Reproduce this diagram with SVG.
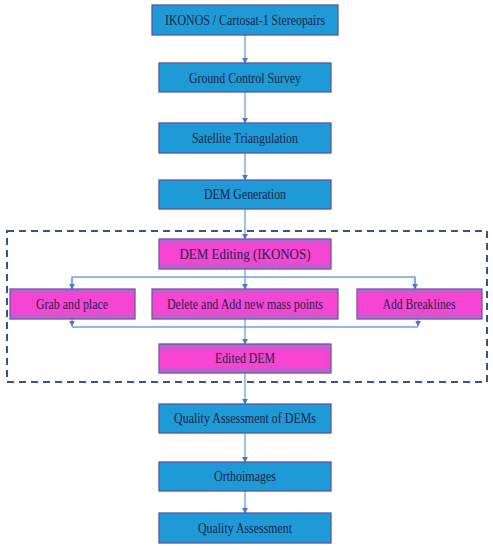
<svg xmlns="http://www.w3.org/2000/svg" width="493" height="550" viewBox="0 0 493 550">
<defs>
<style>
.b{fill:#1E9AD6;stroke:#5A55A6;stroke-width:1.3}
.m{fill:url(#mg);stroke:#6A5AA8;stroke-width:1.3}
.t{font-family:"Liberation Serif","Times New Roman",serif;font-size:14.5px;fill:#1A2548;text-anchor:middle;dominant-baseline:central}
.c{stroke:#6FA0DA;stroke-width:1.3;fill:none}
.c2{stroke:#6FA0DA;stroke-width:1.3;fill:none;marker-end:url(#ah)}
</style>
<linearGradient id="mg" x1="0" y1="0" x2="0" y2="1">
<stop offset="0" stop-color="#C85CCF"/>
<stop offset="0.16" stop-color="#C85CCF"/>
<stop offset="0.17" stop-color="#F744D3"/>
<stop offset="0.83" stop-color="#F744D3"/>
<stop offset="0.84" stop-color="#C85CCF"/>
<stop offset="1" stop-color="#C85CCF"/>
</linearGradient>
<marker id="ah" viewBox="0 0 8 8" refX="7" refY="4" markerWidth="6" markerHeight="6" markerUnits="userSpaceOnUse" orient="auto">
<path d="M0,0 L8,4 L0,8 z" fill="#4A78C8"/>
</marker>
</defs>
<rect width="493" height="550" fill="#fff"/>
<g id="connectors">
<line class="c2" x1="245" y1="35" x2="245" y2="63"/>
<line class="c2" x1="245" y1="92" x2="245" y2="123"/>
<line class="c2" x1="245" y1="153" x2="245" y2="180"/>
<line class="c2" x1="245" y1="209" x2="245" y2="239"/>
<line class="c2" x1="245" y1="269" x2="245" y2="289"/>
<polyline class="c" points="72,289 72,277 415,277 415,289"/>
<line class="c2" x1="72" y1="278" x2="72" y2="289"/>
<line class="c2" x1="415" y1="278" x2="415" y2="289"/>
<line class="c" x1="72" y1="327" x2="418" y2="327"/>
<line class="c2" x1="72" y1="319" x2="72" y2="326"/>
<line class="c2" x1="418" y1="319" x2="418" y2="326"/>
<line class="c2" x1="245" y1="319" x2="245" y2="344"/>
<line class="c2" x1="245" y1="373" x2="245" y2="404"/>
<line class="c2" x1="245" y1="433" x2="245" y2="462"/>
<line class="c2" x1="245" y1="491" x2="245" y2="513"/>
</g>
<rect id="group-box" x="7" y="231" width="480" height="151" fill="none" stroke="#3F4E8C" stroke-width="2" stroke-dasharray="7,5"/>
<g id="n1"><rect class="b" x="152" y="5" width="186" height="30"/><text class="t" x="245" y="20" textLength="160" lengthAdjust="spacingAndGlyphs">IKONOS / Cartosat-1 Stereopairs</text></g>
<g id="n2"><rect class="b" x="159" y="63" width="172" height="29"/><text class="t" x="245" y="78" textLength="112" lengthAdjust="spacingAndGlyphs">Ground Control Survey</text></g>
<g id="n3"><rect class="b" x="159" y="123" width="172" height="30"/><text class="t" x="245" y="138" textLength="106" lengthAdjust="spacingAndGlyphs">Satellite Triangulation</text></g>
<g id="n4"><rect class="b" x="159" y="180" width="172" height="29"/><text class="t" x="245" y="194" textLength="82" lengthAdjust="spacingAndGlyphs">DEM Generation</text></g>
<g id="n5"><rect class="m" x="159" y="239" width="172" height="30"/><text class="t" x="245" y="254" textLength="131" lengthAdjust="spacingAndGlyphs">DEM Editing (IKONOS)</text></g>
<g id="n6"><rect class="m" x="10" y="289" width="125" height="30"/><text class="t" x="72" y="304" textLength="72" lengthAdjust="spacingAndGlyphs">Grab and place</text></g>
<g id="n7"><rect class="m" x="152" y="289" width="186" height="30"/><text class="t" x="245" y="304" textLength="156" lengthAdjust="spacingAndGlyphs">Delete and Add new mass points</text></g>
<g id="n8"><rect class="m" x="357" y="289" width="125" height="30"/><text class="t" x="419" y="304" textLength="73" lengthAdjust="spacingAndGlyphs">Add Breaklines</text></g>
<g id="n9"><rect class="m" x="159" y="344" width="172" height="29"/><text class="t" x="245" y="358" textLength="60" lengthAdjust="spacingAndGlyphs">Edited DEM</text></g>
<g id="n10"><rect class="b" x="159" y="404" width="172" height="29"/><text class="t" x="245" y="418" textLength="142" lengthAdjust="spacingAndGlyphs">Quality Assessment of DEMs</text></g>
<g id="n11"><rect class="b" x="159" y="462" width="172" height="29"/><text class="t" x="245" y="476" textLength="62" lengthAdjust="spacingAndGlyphs">Orthoimages</text></g>
<g id="n12"><rect class="b" x="159" y="513" width="172" height="30"/><text class="t" x="245" y="528" textLength="94" lengthAdjust="spacingAndGlyphs">Quality Assessment</text></g>
</svg>
